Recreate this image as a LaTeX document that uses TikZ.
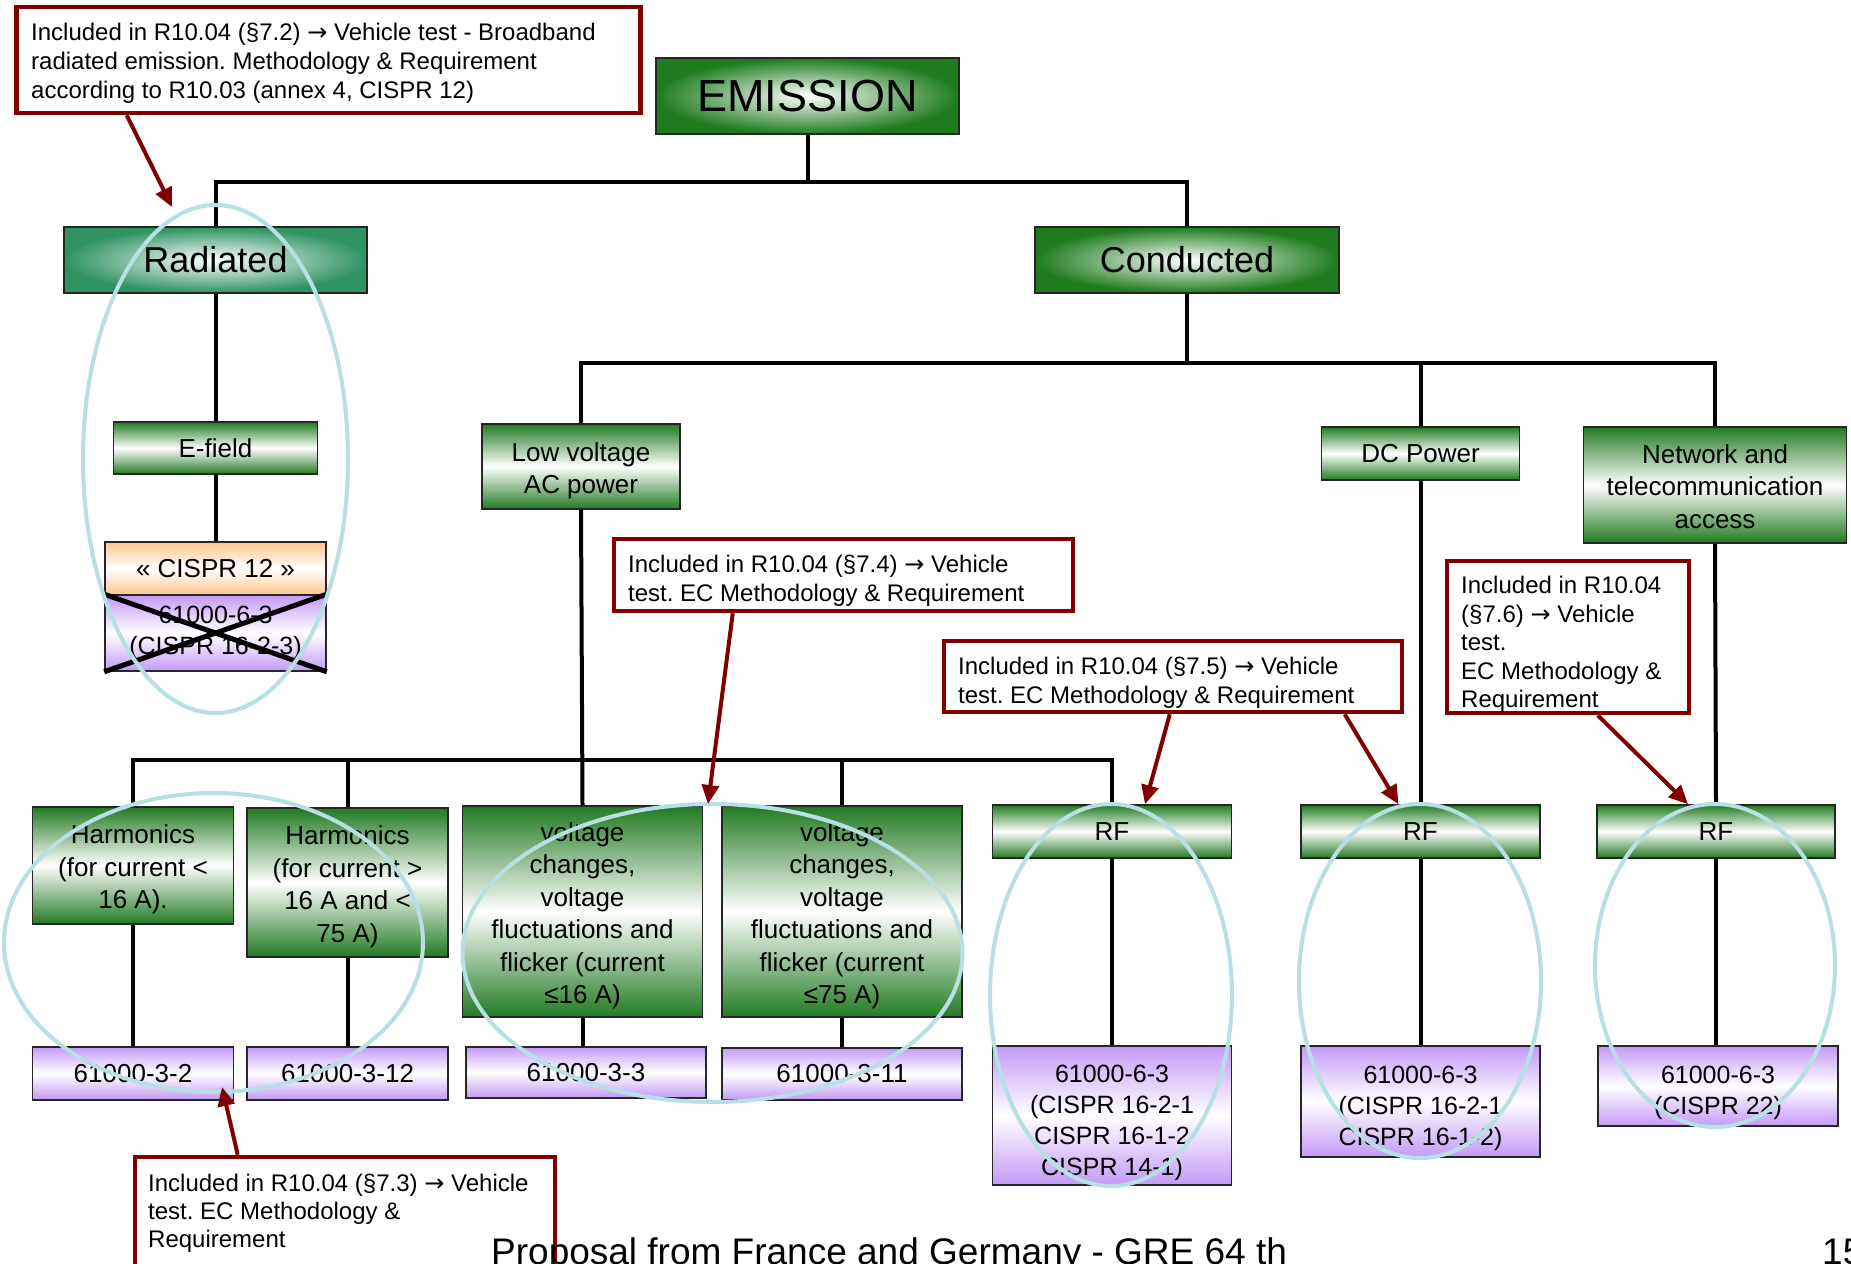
\documentclass[tikz,border=0pt]{standalone}
\usepackage{fontspec}
\setmainfont{Liberation Sans}
\newfontfamily\arrfont{DejaVu Sans}
\newcommand{\rarr}{{\arrfont →}}
\newcommand{\fstrut}[1]{\rule{0pt}{#1}}
\frenchspacing
\usetikzlibrary{arrows.meta,calc}
\definecolor{gdark}{HTML}{1E7B1E}
\definecolor{gsea}{HTML}{2F9263}
\definecolor{gmid}{HTML}{227A22}
\definecolor{purp}{HTML}{C39AF6}
\definecolor{oran}{HTML}{FFC58E}
\definecolor{ellc}{HTML}{B8DFE3}
\definecolor{notered}{HTML}{800000}
\begin{document}
\begin{tikzpicture}[x=1pt,y=-1pt,
  conn/.style={line width=4pt, draw=black},
  topbox/.style={draw=black!85, line width=1.6pt, inner sep=0pt, inner color=white, outer color=gdark, font=\fontsize{36}{43}\selectfont},
  midbox/.style={draw=black!85, line width=1.6pt, inner sep=0pt, align=center, top color=gmid, bottom color=gmid, middle color=white, font=\fontsize{26}{32.5}\selectfont},
  purpbox/.style={draw=black!85, line width=1.6pt, inner sep=0pt, align=center, top color=purp, bottom color=purp, middle color=white, font=\fontsize{25}{31}\selectfont},
  notebox/.style={draw=notered, line width=4.5pt, fill=white, inner sep=0pt},
  notetext/.style={anchor=north west, inner sep=0pt, align=left, font=\fontsize{24}{29}\selectfont},
  notearr/.style={draw=notered, line width=4pt, -{Triangle[length=19pt,width=17pt]}},
  ellip/.style={draw=ellc, line width=4pt},
  crossline/.style={draw=black, line width=5pt}
]
\useasboundingbox (0,0) rectangle (1851,1263);
\clip (0,0) rectangle (1851,1263);
\fill[white] (0,0) rectangle (1851,1263);

% bus coordinates
\coordinate (busE) at (0,182);
\coordinate (busC) at (0,363);
\coordinate (busL) at (0,760);

% nodes
\node[topbox, outer color=gdark, minimum width=303pt, minimum height=76pt, font=\fontsize{45}{54}\selectfont] (emis) at (807.5,96) {EMISSION};
\node[topbox, outer color=gsea, minimum width=303pt, minimum height=66pt] (rad) at (215.5,260) {Radiated};
\node[topbox, outer color=gdark, minimum width=304pt, minimum height=66pt] (cond) at (1187,260) {Conducted};

\node[midbox, minimum width=204pt, minimum height=52pt] (efield) at (215.5,448) {E-field};
\node[midbox, top color=oran, bottom color=oran, middle color=white, minimum width=221pt, minimum height=53pt] (cispr12) at (215.5,568.5) {« CISPR 12 »};
\node[purpbox, minimum width=221pt, minimum height=76pt] (cisprx) at (215.5,633) {61000-6-3\\(CISPR 16-2-3)};

\node[midbox, minimum width=198pt, minimum height=85pt] (lvac) at (581,466.5) {\fstrut{27pt}Low voltage\\AC power};
\node[midbox, minimum width=198pt, minimum height=53pt] (dcp) at (1420.5,453.5) {DC Power};
\node[midbox, minimum width=263pt, minimum height=116pt] (net) at (1715,485) {\fstrut{22pt}Network and\\telecommunication\\access};

\node[midbox, minimum width=201pt, minimum height=117pt] (harm1) at (133,865.5) {\fstrut{27pt}Harmonics\\(for current <\\16 A).};
\node[midbox, minimum width=201pt, minimum height=149pt] (harm2) at (347.5,882.5) {\fstrut{27pt}Harmonics\\(for current >\\16 A and <\\75 A)};
\node[midbox, minimum width=240pt, minimum height=211pt] (volt1) at (582.5,911.5) {\fstrut{27pt}voltage\\changes,\\voltage\\fluctuations and\\flicker (current\\≤16 A)};
\node[midbox, minimum width=240pt, minimum height=211pt] (volt2) at (842,911.5) {\fstrut{27pt}voltage\\changes,\\voltage\\fluctuations and\\flicker (current\\≤75 A)};
\node[midbox, minimum width=239pt, minimum height=53pt] (rf1) at (1112,831.5) {RF};
\node[midbox, minimum width=239pt, minimum height=53pt] (rf2) at (1420.5,831.5) {RF};
\node[midbox, minimum width=238pt, minimum height=53pt] (rf3) at (1716,831.5) {RF};

\node[purpbox, font=\fontsize{26}{32}\selectfont, minimum width=201pt, minimum height=53pt] (s1) at (133,1073.5) {61000-3-2};
\node[purpbox, font=\fontsize{26}{32}\selectfont, minimum width=201pt, minimum height=53pt] (s2) at (347.5,1073.5) {61000-3-12};
\node[purpbox, font=\fontsize{26}{32}\selectfont, minimum width=240pt, minimum height=51pt] (s3) at (586,1072.5) {61000-3-3};
\node[purpbox, font=\fontsize{26}{32}\selectfont, minimum width=240pt, minimum height=52pt] (s4) at (842,1074) {61000-3-11};
\node[purpbox, minimum width=239pt, minimum height=139pt] (p1) at (1112,1115.5) {\fstrut{32pt}61000-6-3\\(CISPR 16-2-1\\CISPR 16-1-2\\CISPR 14-1)};
\node[purpbox, minimum width=239pt, minimum height=111pt] (p2) at (1420.5,1101.5) {\fstrut{32pt}61000-6-3\\(CISPR 16-2-1\\CISPR 16-1-2)};
\node[purpbox, minimum width=240pt, minimum height=80pt] (p3) at (1718,1086) {\fstrut{32pt}61000-6-3\\(CISPR 22)};

% connectors
\draw[conn] (emis.south) -- (emis.south |- busE);
\draw[conn] (rad.north) |- (busE -| cond.north) -- (cond.north);
\draw[conn] (rad.south) -- (efield.north);
\draw[conn] (efield.south) -- (cispr12.north);
\draw[conn] (cond.south) -- (cond.south |- busC);
\draw[conn] (lvac.north) |- (busC -| net.north) -- (net.north);
\draw[conn] (dcp.north) -- (dcp.north |- busC);
\draw[conn] (lvac.south) -- (volt1.north);
\draw[conn] (harm1.north) |- (busL -| rf1.north) -- (rf1.north);
\draw[conn] (harm2.north) -- (harm2.north |- busL);
\draw[conn] (volt2.north) -- (volt2.north |- busL);
\draw[conn] (dcp.south) -- (rf2.north);
\draw[conn] (net.south) -- (rf3.north);
\draw[conn] (harm1.south) -- (s1.north);
\draw[conn] (harm2.south) -- (s2.north);
\draw[conn] (volt1.south) -- (volt1.south |- s3.north);
\draw[conn] (volt2.south) -- (s4.north);
\draw[conn] (rf1.south) -- (p1.north);
\draw[conn] (rf2.south) -- (p2.north);
\draw[conn] (rf3.south) -- (rf3.south |- p3.north);

% cross on the withdrawn standard
\draw[crossline] (cisprx.north west) -- (cisprx.south east);
\draw[crossline] (cisprx.north east) -- (cisprx.south west);

% highlight ellipses
\draw[ellip] (215.5,459) ellipse [x radius=132.5pt, y radius=254pt];
\draw[ellip] (213.5,942.5) ellipse [x radius=209.5pt, y radius=149.5pt];
\draw[ellip] (712.5,953) ellipse [x radius=250pt, y radius=149pt];
\draw[ellip] (1111,995) ellipse [x radius=121pt, y radius=191pt];
\draw[ellip] (1420,981) ellipse [x radius=121pt, y radius=177pt];
\draw[ellip] (1715,965.5) ellipse [x radius=120pt, y radius=161.5pt];

% notes
\node[notebox, minimum width=624pt, minimum height=106pt] (n72) at (328.5,60) {};
\node[notetext] (n72t) at (31,20.2) {\strut Included in R10.04 (§7.2) \rarr{} Vehicle test - Broadband\\radiated emission. Methodology \& Requirement\\according to R10.03 (annex 4, CISPR 12)};
\node[notebox, minimum width=459pt, minimum height=72pt] (n74) at (843.5,575) {};
\node[notetext] (n74t) at (628,552.2) {\strut Included in R10.04 (§7.4) \rarr{} Vehicle\\test. EC Methodology \& Requirement};
\node[notebox, minimum width=458pt, minimum height=71pt] (n75) at (1173,676.5) {};
\node[notetext] (n75t) at (958,653.7) {\strut Included in R10.04 (§7.5) \rarr{} Vehicle\\test. EC Methodology \& Requirement};
\node[notebox, minimum width=242pt, minimum height=152pt] (n76) at (1568,637) {};
\node[notetext, font=\fontsize{24}{28.5}\selectfont] (n76t) at (1461,573.5) {\strut Included in R10.04\\(§7.6) \rarr{} Vehicle\\test.\\EC Methodology \&\\Requirement};
\node[notebox, minimum width=420pt, minimum height=133pt] (n73) at (345,1223.5) {};
\node[notetext, font=\fontsize{24}{28}\selectfont] (n73t) at (148,1171.9) {\strut Included in R10.04 (§7.3) \rarr{} Vehicle\\test. EC Methodology \&\\Requirement};

% note arrows
\coordinate (t72) at (172,207);
\coordinate (t74) at (708,804);
\coordinate (t73) at (222,1087);
\draw[notearr] ($(n72.south west)+(112.5,0)$) -- (t72);
\draw[notearr] ($(n74.south west)+(121,0)$) -- (t74);
\draw[notearr] ($(n75.south west)+(228,0)$) -- ($(rf1.north)+(33,0)$);
\draw[notearr] ($(n75.south west)+(403,0)$) -- ($(rf2.north)+(-22,0)$);
\draw[notearr] ($(n76.south west)+(153,0)$) -- ($(rf3.north)+(-28,0)$);
\draw[notearr] ($(n73.north west)+(105,0)$) -- (t73);

% footer
\node[anchor=base west, inner sep=0pt, font=\fontsize{37}{44}\selectfont] (foot) at (491,1264) {Proposal from France and Germany - GRE 64 th};
\node[anchor=base west, inner sep=0pt, font=\fontsize{37}{44}\selectfont] (pgnum) at (1822,1264) {15};
\end{tikzpicture}
\end{document}
